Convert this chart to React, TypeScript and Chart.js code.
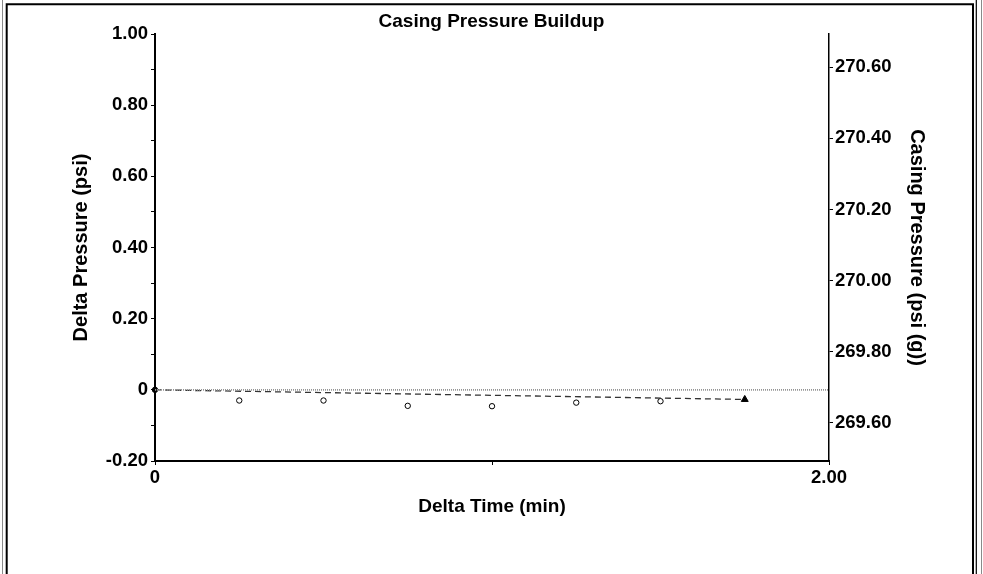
import React, { useEffect, useRef } from 'react';
import { Chart, registerables } from 'chart.js';

Chart.register(...registerables);

// ---- data ----
const deltaTime = [0, 0.25, 0.5, 0.75, 1.0, 1.25, 1.5, 1.75];
const deltaPressure = [0, -0.03, -0.03, -0.045, -0.046, -0.036, -0.032, -0.027];
const trendTime = [0, 1.75];
const trendPressure = [0, -0.027];
const zeroLineTime = [0, 2];
const zeroLinePressure = [0, 0];
const initialCasingPressure = 269.693;

const xTickValues = [0, 1, 2];
const xTickLabels = ['0', '', '2.00'];
const leftTickValues = [-0.2, -0.1, 0, 0.1, 0.2, 0.3, 0.4, 0.5, 0.6, 0.7, 0.8, 0.9, 1.0];
const leftTickLabels = ['-0.20', '', '0', '', '0.20', '', '0.40', '', '0.60', '', '0.80', '', '1.00'];
const rightTickValues = [269.6, 269.8, 270.0, 270.2, 270.4, 270.6];
const rightTickLabels = ['269.60', '269.80', '270.00', '270.20', '270.40', '270.60'];

const chartTitle = 'Casing Pressure Buildup';
const xTitle = 'Delta Time (min)';
const leftTitle = 'Delta Pressure (psi)';
const rightTitle = 'Casing Pressure (psi (g))';

const FAMILY = '"Liberation Sans", Arial, sans-serif';
const tickFont = { family: FAMILY, size: 18.5, weight: 'bold' as const };
const titleFont = { family: FAMILY, size: 19, weight: 'bold' as const };
const sideTitleFont = { family: FAMILY, size: 20, weight: 'bold' as const };

const framePlugin = {
  id: 'frame',
  beforeDraw(chart: any) {
    const { ctx, width, height } = chart;
    ctx.save();
    ctx.fillStyle = '#fff';
    ctx.fillRect(0, 0, width, height);
    ctx.strokeStyle = '#8a8a8a';
    ctx.lineWidth = 1;
    ctx.beginPath();
    ctx.moveTo(2.5, 0);
    ctx.lineTo(2.5, height);
    ctx.moveTo(981.5, 0);
    ctx.lineTo(981.5, height);
    ctx.stroke();
    ctx.strokeStyle = '#000';
    ctx.lineWidth = 2;
    ctx.beginPath();
    ctx.moveTo(6.7, height);
    ctx.lineTo(6.7, 4.2);
    ctx.lineTo(973, 4.2);
    ctx.lineTo(973, height);
    ctx.stroke();
    ctx.lineWidth = 1.2;
    ctx.beginPath();
    ctx.moveTo(976.3, 0);
    ctx.lineTo(976.3, height);
    ctx.stroke();
    ctx.restore();
  },
};

export default function App() {
  const ref = useRef<HTMLCanvasElement | null>(null);

  useEffect(() => {
    if (!ref.current) return;
    const lastIdx = deltaTime.length - 1;
    const chart = new Chart(ref.current, {
      type: 'scatter',
      data: {
        datasets: [
          {
            label: 'zero',
            data: zeroLineTime.map((x, i) => ({ x, y: zeroLinePressure[i] })),
            showLine: true,
            borderColor: '#959595',
            borderWidth: 1.8,
            borderDash: [1, 1],
            pointRadius: 0,
            yAxisID: 'y',
          },
          {
            label: 'trend',
            data: trendTime.map((x, i) => ({ x, y: trendPressure[i] })),
            showLine: true,
            borderColor: '#333',
            borderWidth: 1.3,
            borderDash: [6, 4],
            pointRadius: 0,
            yAxisID: 'y',
          },
          {
            label: 'Delta Pressure',
            data: deltaTime.map((x, i) => ({ x, y: deltaPressure[i] })),
            showLine: false,
            pointStyle: (c: any) => (c.dataIndex === lastIdx ? 'triangle' : 'circle'),
            pointRadius: (c: any) => (c.dataIndex === lastIdx ? 4 : 2.7),
            pointBackgroundColor: (c: any) =>
              c.dataIndex === lastIdx || c.dataIndex === 0 ? '#000' : '#fff',
            pointBorderColor: '#000',
            pointBorderWidth: 1,
            clip: false,
            yAxisID: 'y',
          },
          {
            label: 'centres',
            data: deltaTime.map((x, i) => ({ x, y: deltaPressure[i] })),
            showLine: false,
            pointStyle: 'circle',
            pointRadius: (c: any) => (c.dataIndex === lastIdx ? 0 : 0.9),
            pointBackgroundColor: '#000',
            pointBorderWidth: 0,
            clip: false,
            yAxisID: 'y',
          },
        ],
      },
      options: {
        animation: false,
        responsive: false,
        layout: { padding: 0 },
        plugins: {
          legend: { display: false },
          tooltip: { enabled: false },
          title: {
            display: true,
            text: chartTitle,
            color: '#000',
            font: titleFont,
            padding: { top: 10.6, bottom: 0.6 },
          },
        },
        scales: {
          x: {
            type: 'linear',
            position: 'bottom',
            min: 0,
            max: 2,
            afterBuildTicks: (s: any) => {
              s.ticks = xTickValues.map((v) => ({ value: v }));
            },
            afterFit: (s: any) => {
              s.height = 113;
            },
            grid: { drawOnChartArea: false, color: '#000', tickLength: 4, tickWidth: 1 },
            border: { color: '#000', width: 2 },
            ticks: {
              autoSkip: false,
              maxRotation: 0,
              padding: 2,
              color: '#000',
              font: tickFont,
              callback: (_v: any, i: number) => xTickLabels[i],
            },
            title: {
              display: true,
              text: xTitle,
              color: '#000',
              font: titleFont,
              padding: { top: 0, bottom: 56 },
            },
          },
          y: {
            type: 'linear',
            position: 'left',
            min: leftTickValues[0],
            max: leftTickValues[leftTickValues.length - 1],
            afterBuildTicks: (s: any) => {
              s.ticks = leftTickValues.map((v) => ({ value: v }));
            },
            afterFit: (s: any) => {
              s.width = 155;
            },
            grid: { drawOnChartArea: false, color: '#000', tickLength: 4, tickWidth: 1 },
            border: { color: '#000', width: 2 },
            ticks: {
              autoSkip: false,
              padding: 3,
              color: '#000',
              font: tickFont,
              callback: (_v: any, i: number) => leftTickLabels[i],
            },
            title: {
              display: true,
              text: leftTitle,
              color: '#000',
              font: sideTitleFont,
              padding: { top: 69, bottom: 0 },
            },
          },
          y1: {
            type: 'linear',
            position: 'right',
            min: initialCasingPressure + leftTickValues[0],
            max: initialCasingPressure + leftTickValues[leftTickValues.length - 1],
            afterBuildTicks: (s: any) => {
              s.ticks = rightTickValues.map((v) => ({ value: v }));
            },
            afterFit: (s: any) => {
              s.width = 154;
            },
            grid: { drawOnChartArea: false, color: '#000', tickLength: 4, tickWidth: 1 },
            border: { color: '#000', width: 1.5 },
            ticks: {
              autoSkip: false,
              padding: 2,
              color: '#000',
              font: tickFont,
              callback: (_v: any, i: number) => rightTickLabels[i],
            },
            title: {
              display: true,
              text: rightTitle,
              color: '#000',
              font: sideTitleFont,
              padding: { top: 54, bottom: 0 },
            },
          },
        },
      } as any,
      plugins: [framePlugin],
    });
    return () => chart.destroy();
  }, []);

  return (
    <div style={{ position: 'fixed', left: 0, top: 0, width: 983, height: 574, background: '#fff' }}>
      <canvas ref={ref} width={983} height={574} style={{ display: 'block' }} />
    </div>
  );
}
